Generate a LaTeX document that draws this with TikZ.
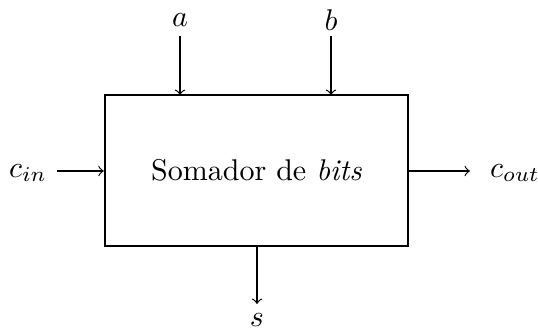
\documentclass[tikz,border=0pt]{standalone}
\begin{document}
\begin{tikzpicture}[x=0.3333pt,y=-0.3333pt,
  lab/.style={inner sep=0pt},
  conn/.style={->,line width=0.4pt},
  blk/.style={draw,line width=0.8pt,minimum width=303*0.3333pt,minimum height=151*0.3333pt,inner sep=0pt}]
\useasboundingbox (0,0) rectangle (538,332);
\node[blk] (box) at (256.5,170.5) {Somador de \textit{bits}};
\node[lab] (a) at (180,20) {$a$};
\node[lab] (b) at (331,20) {$b$};
\node[lab] (cin) at (28,173) {$c_{in}$};
\node[lab] (cout) at (515,173) {$c_{out}$};
\node[lab] (s) at (257,320) {$s$};
\coordinate (ain) at (180,95);
\coordinate (bin) at (331,95);
\coordinate (sout) at (257,246);
\coordinate (cinstart) at (57,171);
\coordinate (coutend) at (470,171);
\draw[conn] (180,36) -- (ain);
\draw[conn] (331,36) -- (bin);
\draw[conn] (cinstart) -- (box.west |- cinstart);
\draw[conn] (box.east |- coutend) -- (coutend);
\draw[conn] (sout) -- (257,304);
\end{tikzpicture}
\end{document}
